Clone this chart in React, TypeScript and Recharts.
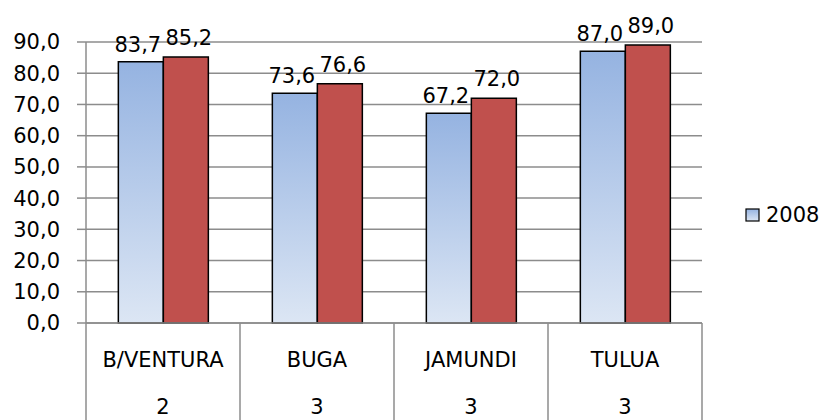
import React from 'react';
import { BarChart, Bar, XAxis, YAxis, CartesianGrid, LabelList, Legend } from 'recharts';

const categories = ['B/VENTURA', 'BUGA', 'JAMUNDI', 'TULUA'];
const subLabels = ['2', '3', '3', '3'];
const series2008 = [83.7, 73.6, 67.2, 87.0];
const series2009 = [85.2, 76.6, 72.0, 89.0];
const yTicks = [0, 10, 20, 30, 40, 50, 60, 70, 80, 90];

const data = categories.map((c, i) => ({
  name: c,
  sub: subLabels[i],
  a: series2008[i],
  b: series2009[i],
}));

const FONT = 'DejaVu Sans';
const FS = 21;
const fmt = (v: any) => Number(v).toFixed(1).replace('.', ',');

const CategoryTick = (props: any) => {
  const { x, y, payload, index, visibleTicksCount } = props;
  const half = payload && payload.offset ? payload.offset : 77;
  const item = data[index] || { name: payload.value, sub: '' };
  const lineColor = '#8c8c8c';
  return (
    <g>
      <line x1={x - half} y1={y} x2={x - half} y2={y + 100} stroke={lineColor} strokeWidth={1.5} />
      {index === visibleTicksCount - 1 && (
        <line x1={x + half} y1={y} x2={x + half} y2={y + 100} stroke={lineColor} strokeWidth={1.5} />
      )}
      <text x={x} y={y + 44} textAnchor="middle" fontFamily={FONT} fontSize={FS} fill="#000">
        {item.name}
      </text>
      <text x={x} y={y + 91} textAnchor="middle" fontFamily={FONT} fontSize={FS} fill="#000">
        {item.sub}
      </text>
    </g>
  );
};

const LegendContent = () => (
  <div style={{ display: 'flex', alignItems: 'center', fontFamily: FONT, fontSize: FS, color: '#000' }}>
    <svg width={16} height={15} style={{ marginRight: 5 }}>
      <defs>
        <linearGradient id="legGrad" x1="0" y1="0" x2="0" y2="1">
          <stop offset="0%" stopColor="#95B3E1" />
          <stop offset="100%" stopColor="#DCE6F4" />
        </linearGradient>
      </defs>
      <rect x={1} y={1} width={13} height={12} fill="url(#legGrad)" stroke="#000" strokeWidth={1.2} />
    </svg>
    <span>2008</span>
  </div>
);

export default function App() {
  return (
    <div style={{ position: 'absolute', left: 0, top: 0, width: 822, height: 420, background: '#fff' }}>
      <BarChart
        width={822}
        height={420}
        data={data}
        margin={{ top: 42, right: 120, left: 0, bottom: 0 }}
        barCategoryGap="21%"
        barGap={0}
        style={{ fontFamily: FONT }}
      >
        <defs>
          <linearGradient id="blueGrad" x1="0" y1="0" x2="0" y2="1">
            <stop offset="0%" stopColor="#95B3E1" />
            <stop offset="100%" stopColor="#DCE6F4" />
          </linearGradient>
        </defs>
        <CartesianGrid vertical={false} stroke="#8c8c8c" strokeWidth={1.5} />
        <XAxis
          dataKey="name"
          height={97}
          tickSize={0}
          tickMargin={0}
          tickLine={false}
          axisLine={{ stroke: '#8c8c8c', strokeWidth: 1.5 }}
          interval={0}
          tick={<CategoryTick />}
        />
        <YAxis
          width={86}
          domain={[0, 90]}
          ticks={yTicks}
          interval={0}
          tickFormatter={fmt}
          tickSize={9}
          tickMargin={17}
          axisLine={{ stroke: '#8c8c8c', strokeWidth: 1.5 }}
          tickLine={{ stroke: '#8c8c8c', strokeWidth: 1.5 }}
          tick={{ fill: '#000', fontSize: FS, fontFamily: FONT }}
        />
        <Legend
          layout="horizontal"
          align="center"
          verticalAlign="middle"
          wrapperStyle={{ left: 745, top: 203, width: 80 }}
          content={<LegendContent />}
        />
        <Bar dataKey="a" name="2008" fill="url(#blueGrad)" stroke="#000" strokeWidth={1.5} isAnimationActive={false}>
          <LabelList dataKey="a" position="top" offset={10} dx={-3} formatter={fmt} style={{ fill: '#000', fontSize: FS, fontFamily: FONT }} />
        </Bar>
        <Bar dataKey="b" name="2009" legendType="none" fill="#C0504D" stroke="#000" strokeWidth={1.5} isAnimationActive={false}>
          <LabelList dataKey="b" position="top" offset={12} dx={3} formatter={fmt} style={{ fill: '#000', fontSize: FS, fontFamily: FONT }} />
        </Bar>
      </BarChart>
    </div>
  );
}
